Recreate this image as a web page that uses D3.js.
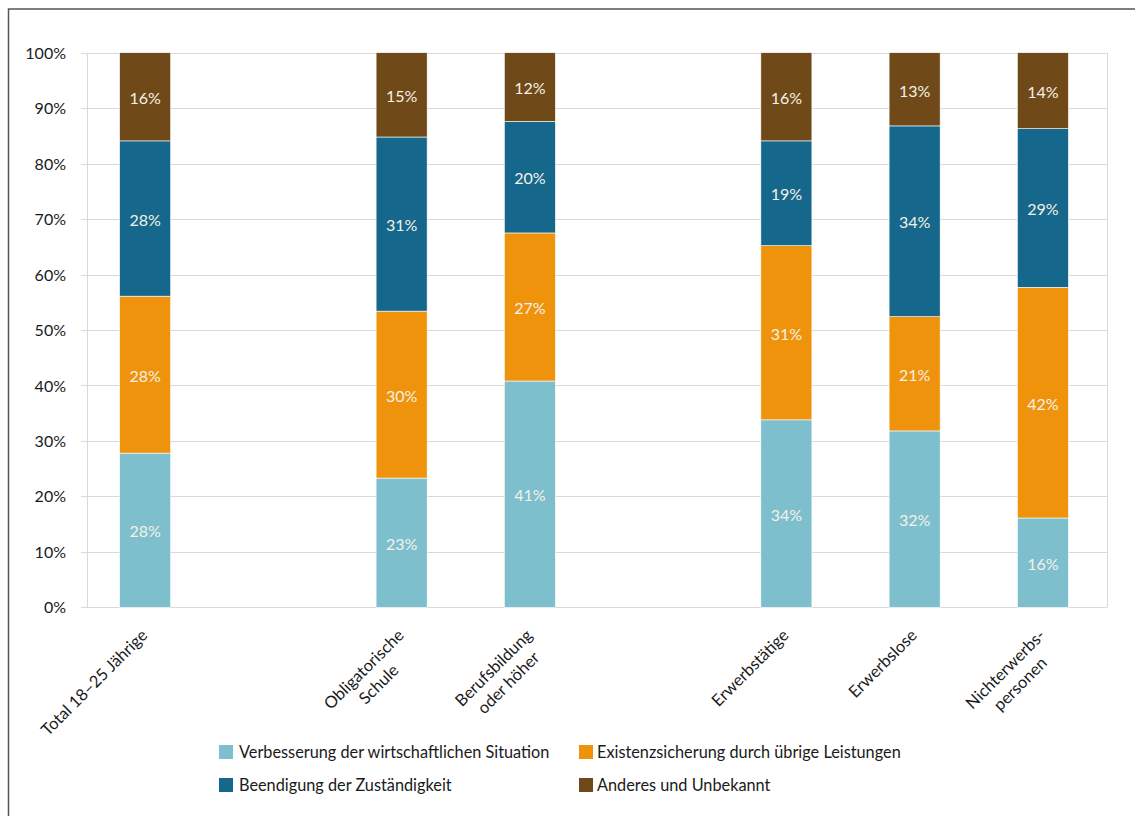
<!DOCTYPE html>
<html>
<head>
<meta charset="utf-8">
<script src="https://cdn.jsdelivr.net/npm/d3@7"></script>
<style>
  body { margin: 0; background: #fff; }
  svg text { font-family: Lato, "Noto Sans", sans-serif; }
</style>
</head>
<body>
<div id="chart"></div>
<script>
// slots: two empty slots separate the groups
var slots = ["Total 18–25 Jährige", "_gap1", "Obligatorische\nSchule", "Berufsbildung\noder höher", "_gap2", "Erwerbstätige", "Erwerbslose", "Nichterwerbs-\npersonen"];

var verbesserung = [27.8, 0, 23.3, 40.8, 0, 33.8, 31.8, 16.1];
var existenz     = [28.3, 0, 30.1, 26.7, 0, 31.4, 20.6, 41.6];
var beendigung   = [28.0, 0, 31.4, 20.1, 0, 18.9, 34.4, 28.6];
var anderes      = [15.9, 0, 15.2, 12.4, 0, 15.9, 13.2, 13.7];

var seriesNames = ["Verbesserung der wirtschaftlichen Situation", "Existenzsicherung durch übrige Leistungen", "Beendigung der Zuständigkeit", "Anderes und Unbekannt"];
var seriesColors = ["#7dbfcd", "#f0930c", "#15678c", "#704919"];
var yTicks = [0, 10, 20, 30, 40, 50, 60, 70, 80, 90, 100];

var W = 1135, H = 816;
var plot = {left: 81, right: 1107, top: 52.7, bottom: 607.3};

var svg = d3.select("#chart").append("svg")
    .attr("width", W)
    .attr("height", H);

// outer frame (only top and left visible)
svg.append("path")
    .attr("d", "M8.5,816 L8.5,9 L1135,9")
    .attr("fill", "none")
    .attr("stroke", "#555")
    .attr("stroke-width", 1.5);

var rows = slots.map(function(s, i){
    return {slot: s, v0: verbesserung[i], v1: existenz[i], v2: beendigung[i], v3: anderes[i]};
});
var keys = ["v0", "v1", "v2", "v3"];
var stacked = d3.stack().keys(keys)(rows);

var x = d3.scaleBand()
    .domain(slots)
    .range([plot.left, plot.right])
    .paddingInner(0.602)
    .paddingOuter(0.301);

var y = d3.scaleLinear()
    .domain([0, 100])
    .range([plot.bottom, plot.top]);

// gridlines
svg.append("g").selectAll("line")
    .data(yTicks)
    .enter().append("line")
    .attr("x1", plot.left)
    .attr("x2", plot.right)
    .attr("y1", function(d){ return Math.round(y(d)) + 0.5; })
    .attr("y2", function(d){ return Math.round(y(d)) + 0.5; })
    .attr("stroke", "#d9d9d9")
    .attr("stroke-width", 1);

// vertical axis line and right border
svg.append("line")
    .attr("x1", 87.5).attr("x2", 87.5)
    .attr("y1", y(100)).attr("y2", y(0))
    .attr("stroke", "#d9d9d9");
svg.append("line")
    .attr("x1", plot.right + 0.5).attr("x2", plot.right + 0.5)
    .attr("y1", y(100)).attr("y2", y(0))
    .attr("stroke", "#d9d9d9");

// y tick labels
svg.append("g").selectAll("text")
    .data(yTicks)
    .enter().append("text")
    .attr("x", 66)
    .attr("y", function(d){ return y(d); })
    .attr("dy", "0.38em")
    .attr("text-anchor", "end")
    .attr("font-size", "16px")
    .attr("fill", "#1a1a1a")
    .text(function(d){ return d + "%"; });

// bars
var layers = svg.append("g").selectAll("g")
    .data(stacked)
    .enter().append("g")
    .attr("fill", function(d, i){ return seriesColors[i]; });

layers.selectAll("rect")
    .data(function(d){ return d.filter(function(p){ return p[1] - p[0] > 0; }); })
    .enter().append("rect")
    .attr("x", function(d){ return x(d.data.slot); })
    .attr("width", x.bandwidth())
    .attr("y", function(d){ return y(d[1]); })
    .attr("height", function(d){ return y(d[0]) - y(d[1]); })
    .attr("stroke", "#fff")
    .attr("stroke-width", 0.6);

layers.selectAll("text")
    .data(function(d){ return d.filter(function(p){ return p[1] - p[0] > 0; }); })
    .enter().append("text")
    .attr("x", function(d){ return x(d.data.slot) + x.bandwidth() / 2; })
    .attr("y", function(d){ return y((d[0] + d[1]) / 2); })
    .attr("dy", "0.45em")
    .attr("text-anchor", "middle")
    .attr("font-size", "16px")
    .attr("fill", "#f6f1e7")
    .text(function(d){ return Math.round(d[1] - d[0]) + "%"; });

// x labels, rotated -45, lines centred within block, block's top-right at the tick
var lineH = 21;
slots.forEach(function(s){
    if(s.charAt(0) === "_") return;
    var lines = s.split("\n");
    var g = svg.append("g")
        .attr("transform", "translate(" + (x(s) + x.bandwidth() / 2 - 6) + ",627) rotate(-45)");
    var texts = lines.map(function(l, i){
        return g.append("text")
            .attr("y", i * lineH)
            .attr("dy", "0.8em")
            .attr("text-anchor", "middle")
            .attr("font-size", "16.5px")
            .attr("fill", "#1a1a1a")
            .text(l);
    });
    var maxW = d3.max(texts, function(t){ return t.node().getComputedTextLength(); });
    texts.forEach(function(t){ t.attr("x", -maxW / 2); });
});

// legend
var legendPos = [[219, 752], [579, 752], [219, 785], [579, 785]];
var legend = svg.append("g").selectAll("g")
    .data(seriesNames)
    .enter().append("g")
    .attr("transform", function(d, i){ return "translate(" + legendPos[i][0] + "," + legendPos[i][1] + ")"; });

legend.append("rect")
    .attr("x", 0)
    .attr("y", -7)
    .attr("width", 14)
    .attr("height", 14)
    .attr("fill", function(d, i){ return seriesColors[i]; });

legend.append("text")
    .attr("x", function(d, i){ return i % 2 === 0 ? 20 : 18; })
    .attr("y", 0)
    .attr("dy", "0.35em")
    .attr("font-size", "16.3px")
    .attr("fill", "#1a1a1a")
    .text(function(d){ return d; });
</script>
</body>
</html>
